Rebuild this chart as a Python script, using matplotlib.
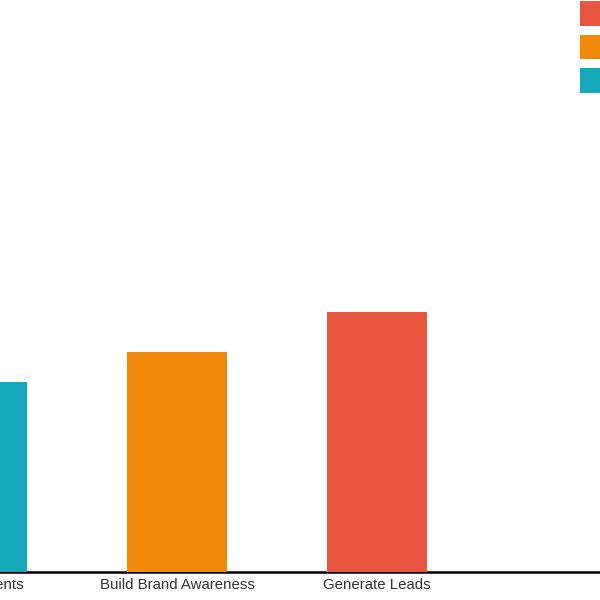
import matplotlib.pyplot as plt

# data
goals = ['Retain Clients', 'Build Brand Awareness', 'Generate Leads']
scores = [38, 44, 52]
colors = ['#14A9B8', '#F0880A', '#E8563F']

# legend order (top to bottom)
legend_order = [2, 1, 0]

plt.rcParams['font.family'] = ['Liberation Sans', 'DejaVu Sans']

fig = plt.figure(figsize=(6, 6), dpi=100)
ax = fig.add_axes([0, 0, 1, 1])

x = list(range(len(goals)))
bars = ax.bar(x, scores, width=0.5, color=colors, zorder=2)
ax.axhline(0, color='black', lw=1.8, zorder=1)

# category labels under the baseline (drawn as text so the cropped one still shows)
for i, g in zip(x, goals):
    ax.text(i, -1.2, g, ha='center', va='top', fontsize=10.8,
            color='#333333', clip_on=False)

ax.set_xticks([])
ax.set_yticks([])
for s in ax.spines.values():
    s.set_visible(False)
ax.patch.set_alpha(0)

# view window (the chart is cropped on the left and right)
ax.set_xlim(0.115, 3.115)
ax.set_ylim(-5.6, 114.4)

fig.legend([bars[i] for i in legend_order], [goals[i] for i in legend_order],
           loc='upper left', bbox_to_anchor=(580 / 600, 599 / 600),
           frameon=False, borderpad=0, borderaxespad=0,
           fontsize=10.5, handlelength=1.8, handleheight=2.22,
           labelspacing=0.62, handletextpad=0.6)

fig.savefig('out.png', dpi=100)
